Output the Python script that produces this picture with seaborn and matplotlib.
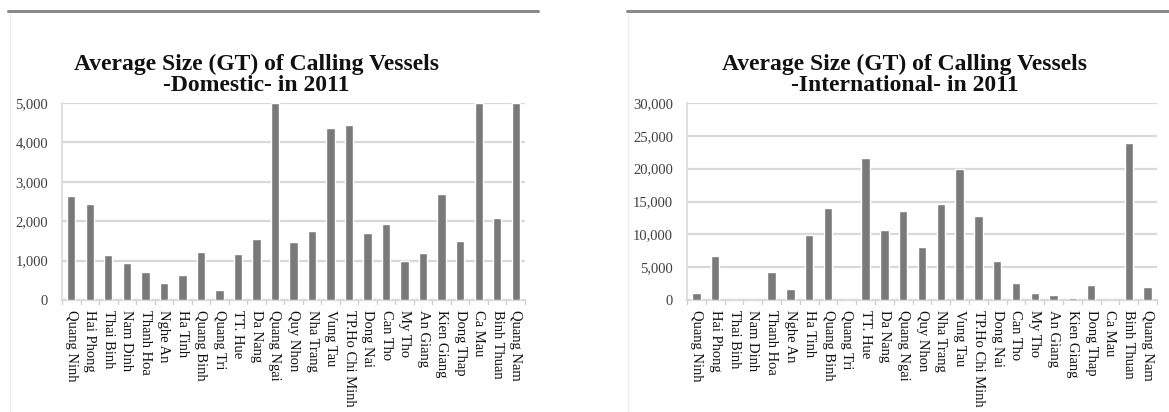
import matplotlib
matplotlib.use("Agg")
import matplotlib.pyplot as plt
from matplotlib.lines import Line2D
import seaborn as sns
import pandas as pd

sns.set_theme(style="white")
plt.rcParams["font.family"] = ["Liberation Serif", "DejaVu Serif"]

ports = [
    "Quang Ninh", "Hai Phong", "Thai Binh", "Nam Dinh", "Thanh Hoa", "Nghe An",
    "Ha Tinh", "Quang Binh", "Quang Tri", "TT. Hue", "Da Nang", "Quang Ngai",
    "Quy Nhon", "Nha Trang", "Vung Tau", "TP.Ho Chi Minh", "Dong Nai", "Can Tho",
    "My Tho", "An Giang", "Kien Giang", "Dong Thap", "Ca Mau", "Binh Thuan",
    "Quang Nam",
]

domestic_gt = [
    2630, 2440, 1130, 930, 720, 420, 640, 1220, 250, 1160, 1550, 5000,
    1470, 1740, 4360, 4450, 1690, 1930, 1000, 1200, 2690, 1500, 5000, 2090,
    5000,
]

international_gt = [
    1000, 6700, 0, 0, 4200, 1600, 9900, 14000, 0, 21650, 10700, 13600,
    8130, 14640, 19930, 12800, 5900, 2540, 1000, 700, 250, 2290, 0, 23900,
    2030,
]

dom_ticks = [0, 1000, 2000, 3000, 4000, 5000]
int_ticks = [0, 5000, 10000, 15000, 20000, 25000, 30000]

W, H = 1169, 412
fig = plt.figure(figsize=(W / 100, H / 100), dpi=100)
fig.patch.set_facecolor("white")

BAR = "#7a7a7a"
GRID = "#d9d9d9"


def px(x0, y0, x1, y1):
    return [x0 / W, 1 - y1 / H, (x1 - x0) / W, (y1 - y0) / H]


def panel(rect, values, ticks, title_lines, title_x):
    ax = fig.add_axes(rect)
    df = pd.DataFrame({"port": ports, "gt": values})
    sns.barplot(data=df, x="port", y="gt", color=BAR, saturation=1,
                width=0.45, ax=ax, zorder=3)
    ax.set_xlim(-0.5, len(ports) - 0.5)
    ax.set_ylim(0, ticks[-1])
    ax.set_yticks(ticks)
    ax.set_yticklabels([f"{t:,}" for t in ticks], fontsize=10.5, color="#404040")
    ax.set_xticks(range(len(ports)))
    ax.set_xticklabels(ports, rotation=270, fontsize=10.5, color="#111111",
                       va="top", ha="center")
    ax.set_xlabel("")
    ax.set_ylabel("")
    ax.yaxis.grid(True, color=GRID, linewidth=1.6, zorder=0)
    ax.set_axisbelow(True)
    for s in ("top", "right"):
        ax.spines[s].set_visible(False)
    ax.spines["left"].set_color(GRID)
    ax.spines["left"].set_linewidth(1.2)
    ax.spines["bottom"].set_color(GRID)
    ax.spines["bottom"].set_linewidth(1.6)
    ax.tick_params(axis="y", length=0, pad=10)
    ax.tick_params(axis="x", length=0, pad=7)
    # category separators on the baseline
    for i in range(len(ports) + 1):
        ax.plot([i - 0.5, i - 0.5], [0, -ticks[-1] * 0.02], color="#cfcfcf",
                lw=1, clip_on=False, zorder=1)
    for line, base in zip(title_lines, (70, 91)):
        fig.text(title_x / W, 1 - base / H, line, ha="center", va="baseline",
                 fontsize=17, fontweight="bold", color="#111111")
    return ax


panel(px(62, 103, 525, 300), domestic_gt, dom_ticks,
      ["Average Size (GT) of Calling Vessels", "-Domestic- in 2011"], 256)
panel(px(687, 103, 1157, 300), international_gt, int_ticks,
      ["Average Size (GT) of Calling Vessels", "-International- in 2011"], 905)

# frame rules above each chart
for x0, x1 in ((8, 538), (627, 1169)):
    fig.add_artist(Line2D([x0 / W, x1 / W], [1 - 11 / H, 1 - 11 / H],
                          color="#8a8a8a", lw=2.2))
for x in (10, 628):
    fig.add_artist(Line2D([x / W, x / W], [0, 1 - 14 / H],
                          color="#ececec", lw=1))

fig.savefig("out.png", dpi=100, facecolor="white")
